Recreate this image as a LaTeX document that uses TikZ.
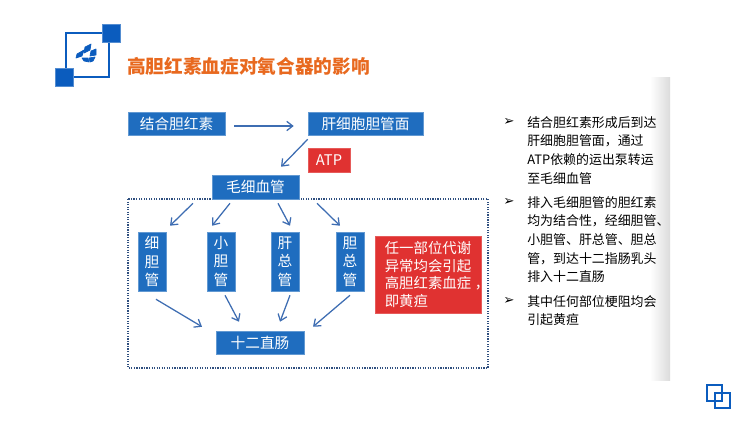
\documentclass[tikz,border=0pt]{standalone}
\usepackage{fontspec}
\setmainfont{Noto Sans CJK SC}
\newfontfamily\symfont{DejaVu Sans}
\definecolor{boxblue}{HTML}{1F6DBF}
\definecolor{logoblue}{HTML}{0B5CBE}
\definecolor{boxred}{HTML}{E03231}
\definecolor{titleorange}{HTML}{E8691F}
\definecolor{arrowblue}{HTML}{3E6DB2}
\definecolor{framedot}{HTML}{2F4F7F}
\usetikzlibrary{arrows.meta}
\tikzset{
  sized/.style 2 args={minimum width=#1*.75pt, minimum height=#2*.75pt},
  bluebox/.style={fill=boxblue, draw=boxblue!70!white, line width=.4pt, text=white, inner sep=0pt,
    align=center, font=\fontsize{11}{13.7}\selectfont},
  redbox/.style={bluebox, fill=boxred, draw=boxred!80!white},
  flowarrow/.style={draw=arrowblue, line width=.95pt, -{Straight Barb[length=4.5pt,width=7pt]}},
  bullettext/.style={anchor=north west, inner sep=0pt, align=left, text=black,
    font=\fontsize{9.7}{14}\selectfont},
  bulletmark/.style={inner sep=0pt, font=\symfont\fontsize{10}{10}\selectfont},
  logosquare/.style={fill=logoblue, draw=logoblue!70!white, line width=.3pt},
  logoline/.style={draw=logoblue, line width=1pt},
  logopetal/.style={fill=logoblue, draw=logoblue, line width=.5pt, line join=round}
}
\begin{document}
\begin{tikzpicture}[x=.75pt, y=-.75pt]
\useasboundingbox (0,0) rectangle (750,422);
% shadow strip
\shade[left color=white, right color=black!14] (650,77) rectangle (670,380);
% logo
\draw[logoline] (66,33) rectangle (109,77);
\fill[logosquare] (102,24) rectangle (120,42);
\fill[logosquare] (55,68) rectangle (73,86);
\filldraw[logopetal] (85,47) -- (91,44) -- (90,50) -- (84,53) -- cycle;
\filldraw[logopetal] (77,54) -- (84,50) -- (82,56) -- (76,58) -- cycle;
\filldraw[logopetal] (91,51) -- (96,49) -- (96,55) -- (90,56) -- cycle;
\filldraw[logopetal] (82,58) -- (88,58) -- (89,62) -- (84,61) -- cycle;
\filldraw[logopetal] (89,58) -- (95,57) -- (93,61) -- (90,62) -- cycle;
\draw[logoline] (707,385) rectangle (722,401);
\draw[logoline] (715,393) rectangle (730,408);
% title
\node[anchor=west, inner sep=0pt, text=titleorange, font=\fontsize{14}{16}\selectfont\bfseries] (title) at (127,66) {高胆红素血症对氧合器的影响};
% dotted frame
\draw[framedot, line width=.9pt, densely dotted] (128,199) rectangle (488,368);
% boxes
\node[bluebox, sized={97}{23}] (conj) at (176.5,123.5) {结合胆红素};
\node[bluebox, sized={115}{23}] (hep) at (365.5,123.5) {肝细胞胆管面};
\node[redbox, sized={42}{24}] (atp) at (329,160) {ATP};
\node[bluebox, sized={87}{24}] (cap) at (255.5,187) {毛细血管};
\node[bluebox, sized={28}{59}] (xi) at (152,261.5) {细\\胆\\管};
\node[bluebox, sized={28}{59}] (xiao) at (221,261.5) {小\\胆\\管};
\node[bluebox, sized={28}{59}] (gan) at (285,261.5) {肝\\总\\管};
\node[bluebox, sized={28}{59}] (dan) at (350,261.5) {胆\\总\\管};
\node[redbox, sized={106}{77}, font=\fontsize{10.8}{13.1}\selectfont, align=left] (note) at (428,274.5)
  {任一部位代谢\\异常均会引起\\高胆红素血症\rlap{\hspace{.25em}，}\\即黄疸};
\node[bluebox, sized={88}{23}] (duo) at (260,342.5) {十二直肠};
% connectors
\draw[flowarrow] ([shift={(9,2.5)}]conj.east) -- ([shift={(-14,2.5)}]hep.west);
\draw[flowarrow] ([shift={(0,4)}]hep.south west) -- ([shift={(25.5,-8)}]cap.north);
\foreach \name/\sx/\ex in {xi/-62.5/18, xiao/-25.5/-9, gan/22.5/5, dan/61.5/-10}
  \draw[flowarrow] ([shift={(\sx,4)}]cap.south) -- ([shift={(\ex,-6)}]\name.north);
\foreach \name/\sx/\sy/\ex/\ey in {xi/4/8/-58/-4, xiao/4/4/-21/-9, gan/5/4/20/-9, dan/0/4/53/-4}
  \draw[flowarrow] ([shift={(\sx,\sy)}]\name.south) -- ([shift={(\ex,\ey)}]duo.north);
% right column
\node[bulletmark] (marka) at (509,122) {➢};
\node[bulletmark] (markb) at (509,202) {➢};
\node[bulletmark] (markc) at (509,301) {➢};
\node[bullettext] (texta) at (527,116) {结合胆红素形成后到达\\肝细胞胆管面，通过\\ATP依赖的运出泵转运\\至毛细血管};
\node[bullettext] (textb) at (527,196) {排入毛细胆管的胆红素\\均为结合性，经细胆管、\\小胆管、肝总管、胆总\\管，到达十二指肠乳头\\排入十二直肠};
\node[bullettext] (textc) at (527,295) {其中任何部位梗阻均会\\引起黄疸};
\end{tikzpicture}
\end{document}
